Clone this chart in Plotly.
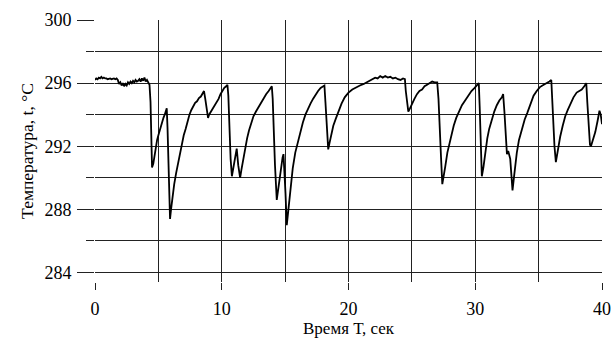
import plotly.graph_objects as go

time_s = [
    0.0, 0.1, 0.2, 0.3, 0.4, 0.5, 0.6, 0.7, 0.8, 0.9, 1.0, 1.1, 1.2, 1.3, 1.4, 1.5, 1.6, 1.7, 1.8, 1.9,
    2.0, 2.1, 2.2, 2.3, 2.4, 2.5, 2.6, 2.7, 2.8, 2.9, 3.0, 3.1, 3.2, 3.3, 3.4, 3.5, 3.6, 3.7, 3.8, 3.9,
    4.0, 4.1, 4.2, 4.3, 4.38, 4.45, 4.5, 4.6, 4.7, 4.8, 4.9, 5.0, 5.1, 5.2, 5.3, 5.4, 5.5, 5.6, 5.66,
    5.72, 5.8, 5.92, 6.0, 6.1, 6.25, 6.4, 6.55, 6.7, 6.85, 7.0, 7.15, 7.3, 7.45, 7.6, 7.75, 7.9, 8.05,
    8.2, 8.35, 8.5, 8.6,
    8.7, 8.8, 8.92, 9.0, 9.15, 9.3, 9.45, 9.6, 9.75, 9.9, 10.05, 10.2, 10.35, 10.45,
    10.52, 10.6, 10.7, 10.8, 10.9, 11.0, 11.1, 11.18, 11.3, 11.45, 11.55, 11.7, 11.85, 12.0, 12.15,
    12.3, 12.5, 12.7, 12.9, 13.1, 13.3, 13.5, 13.7, 13.85, 13.95,
    14.02, 14.1, 14.2, 14.34, 14.45, 14.55, 14.66, 14.8, 14.87, 14.95, 15.03, 15.13, 15.25, 15.35,
    15.45, 15.6, 15.8, 16.0, 16.2, 16.4, 16.6, 16.8, 17.0, 17.2, 17.4, 17.6, 17.8, 18.0, 18.1,
    18.18, 18.28, 18.4, 18.5, 18.65, 18.8, 19.0, 19.2, 19.45, 19.7, 20.0, 20.3, 20.6, 20.9, 21.2,
    21.5, 21.7, 21.9, 22.1, 22.3, 22.5, 22.7, 22.9, 23.1, 23.3, 23.5, 23.7, 23.9, 24.1, 24.3, 24.45,
    24.52, 24.6, 24.72, 24.85, 25.0, 25.2, 25.4, 25.6, 25.8, 26.0, 26.2, 26.4, 26.6, 26.8, 27.0,
    27.1, 27.2, 27.3, 27.4, 27.5, 27.63, 27.8, 27.95, 28.1, 28.3, 28.5, 28.7, 28.95, 29.2, 29.45,
    29.7, 29.95, 30.2, 30.28,
    30.35, 30.42, 30.52, 30.65, 30.8, 30.95, 31.1, 31.3, 31.5, 31.7, 31.9, 32.1, 32.2,
    32.3, 32.4, 32.5, 32.6, 32.68, 32.76, 32.85, 32.94, 33.05, 33.15, 33.28, 33.45, 33.68, 33.9,
    34.1, 34.35, 34.6, 34.85, 35.1, 35.4, 35.65, 35.85, 36.0,
    36.07, 36.15, 36.25, 36.36, 36.5, 36.7, 36.9, 37.1, 37.3, 37.5, 37.75, 38.0, 38.2, 38.4, 38.6,
    38.76,
    38.84, 38.95, 39.05, 39.13, 39.3, 39.47, 39.65, 39.8, 39.9, 40.0,
]

temperature_c = [
    296.2, 296.3, 296.25, 296.35, 296.3, 296.4, 296.3, 296.35, 296.3, 296.3, 296.25, 296.3, 296.3,
    296.25, 296.3, 296.3, 296.25, 296.3, 296.2, 295.95,
    296.05, 295.85, 296.0, 295.8, 295.95, 295.85, 296.05, 295.95, 296.1, 296.0, 296.15, 296.05,
    296.2, 296.1, 296.15, 296.25, 296.1, 296.3, 296.15, 296.35,
    296.1, 296.2, 296.05, 295.9, 294.8, 291.5, 290.65, 290.9, 291.5, 292.0, 292.4, 292.7, 293.0,
    293.3, 293.55, 293.8, 294.0, 294.2, 294.4,
    293.2, 290.5, 287.4, 288.0, 288.8, 289.6, 290.3, 290.9, 291.6, 292.2, 292.7, 293.1, 293.6,
    294.0, 294.3, 294.5, 294.75, 294.85,
    295.05, 295.15, 295.35, 295.5,
    295.0, 294.3, 293.8, 294.0, 294.2, 294.45, 294.6, 294.85, 295.0, 295.3, 295.5, 295.7, 295.8,
    295.9,
    295.2, 293.3, 291.2, 290.1, 290.5, 291.0, 291.5, 291.85, 290.8, 290.0, 290.5, 291.2, 291.9,
    292.5, 293.0,
    293.4, 293.9, 294.2, 294.5, 294.8, 295.1, 295.3, 295.5, 295.7, 295.8,
    295.0, 293.0, 290.8, 288.6, 289.3, 290.0, 290.6, 291.3, 291.5, 290.5, 289.0, 287.0, 287.9,
    288.7,
    289.5, 290.6, 291.6, 292.3, 292.9, 293.5, 294.0, 294.4, 294.7, 295.0, 295.3, 295.5, 295.7,
    295.8, 295.85,
    294.8, 293.0, 291.8, 292.2, 292.8, 293.3, 293.75, 294.2, 294.7, 295.1, 295.4, 295.6, 295.75,
    295.85, 295.95,
    296.1, 296.2, 296.25, 296.35, 296.3, 296.45, 296.35, 296.45, 296.35, 296.4, 296.3, 296.35,
    296.25, 296.2, 296.3, 296.25,
    295.5, 294.9, 294.2, 294.4, 294.7, 295.0, 295.3, 295.5, 295.6, 295.8, 295.9, 296.0, 296.1,
    296.05, 296.05,
    295.0, 293.5, 291.3, 289.6, 290.0, 290.7, 291.6, 292.1, 292.7, 293.3, 293.8, 294.2, 294.6,
    294.9, 295.2,
    295.5, 295.7, 295.95, 296.0,
    294.5, 292.5, 290.1, 290.7, 291.8, 292.5, 293.1, 293.7, 294.2, 294.6, 294.9, 295.1, 295.3,
    294.2, 292.8, 291.5, 291.7, 291.5, 291.2, 290.2, 289.2, 290.0, 290.8, 291.6, 292.4, 293.1,
    293.7,
    294.1, 294.7, 295.2, 295.5, 295.75, 295.9, 296.0, 296.1, 296.2,
    295.0, 293.5, 292.0, 291.0, 291.8, 292.6, 293.3, 293.9, 294.3, 294.7, 295.1, 295.4, 295.5,
    295.6, 295.8,
    296.0,
    294.8, 293.0, 292.1, 292.0, 292.4, 292.9, 293.6, 294.25, 294.0, 293.4,
]

x_tick_values = [0, 10, 20, 30, 40]
y_tick_values = [284, 288, 292, 296, 300]
x_title = "Время Т, сек"
y_title = "Температура, t, °C"

grid_color = "#222222"
font_family = "Liberation Serif, Times New Roman, serif"

fig = go.Figure()
fig.add_trace(go.Scatter(
    x=time_s, y=temperature_c, mode="lines",
    line=dict(color="black", width=1.8),
    showlegend=False, hoverinfo="skip",
))

fig.update_layout(
    width=612, height=338,
    margin=dict(l=95, r=10, t=20, b=56, autoexpand=False),
    plot_bgcolor="white", paper_bgcolor="white",
    font=dict(family=font_family, size=18, color="black"),
    showlegend=False,
)

fig.update_xaxes(
    range=[0, 40], automargin=False,
    tickmode="array", tickvals=x_tick_values,
    ticks="outside", ticklen=7, tickwidth=1, tickcolor=grid_color,
    ticklabelstandoff=3,
    showgrid=True, gridcolor=grid_color, gridwidth=1,
    minor=dict(dtick=5, tick0=0, showgrid=True, gridcolor=grid_color, gridwidth=1, ticks=""),
    zeroline=False, showline=False,
    tickfont=dict(size=18),
    title=dict(text=x_title, font=dict(size=17), standoff=2),
)

fig.update_yaxes(
    range=[283.4, 300], automargin=False,
    tickmode="array", tickvals=y_tick_values,
    ticks="outside", ticklen=17, tickwidth=1, tickcolor=grid_color,
    ticklabelstandoff=2,
    showgrid=True, gridcolor=grid_color, gridwidth=1,
    minor=dict(dtick=2, tick0=284, showgrid=True, gridcolor=grid_color, gridwidth=1,
               ticks="outside", ticklen=8, tickwidth=1, tickcolor=grid_color),
    zeroline=False, showline=False,
    tickfont=dict(size=18),
    title=dict(text=y_title, font=dict(size=17.5), standoff=6),
)

# remove the default 8px page margin so the 612x338 figure fills the window exactly
fig.write_html(
    "out.html",
    config={"displayModeBar": False},
    post_script="document.body.style.margin='0';document.body.style.overflow='hidden';",
)
